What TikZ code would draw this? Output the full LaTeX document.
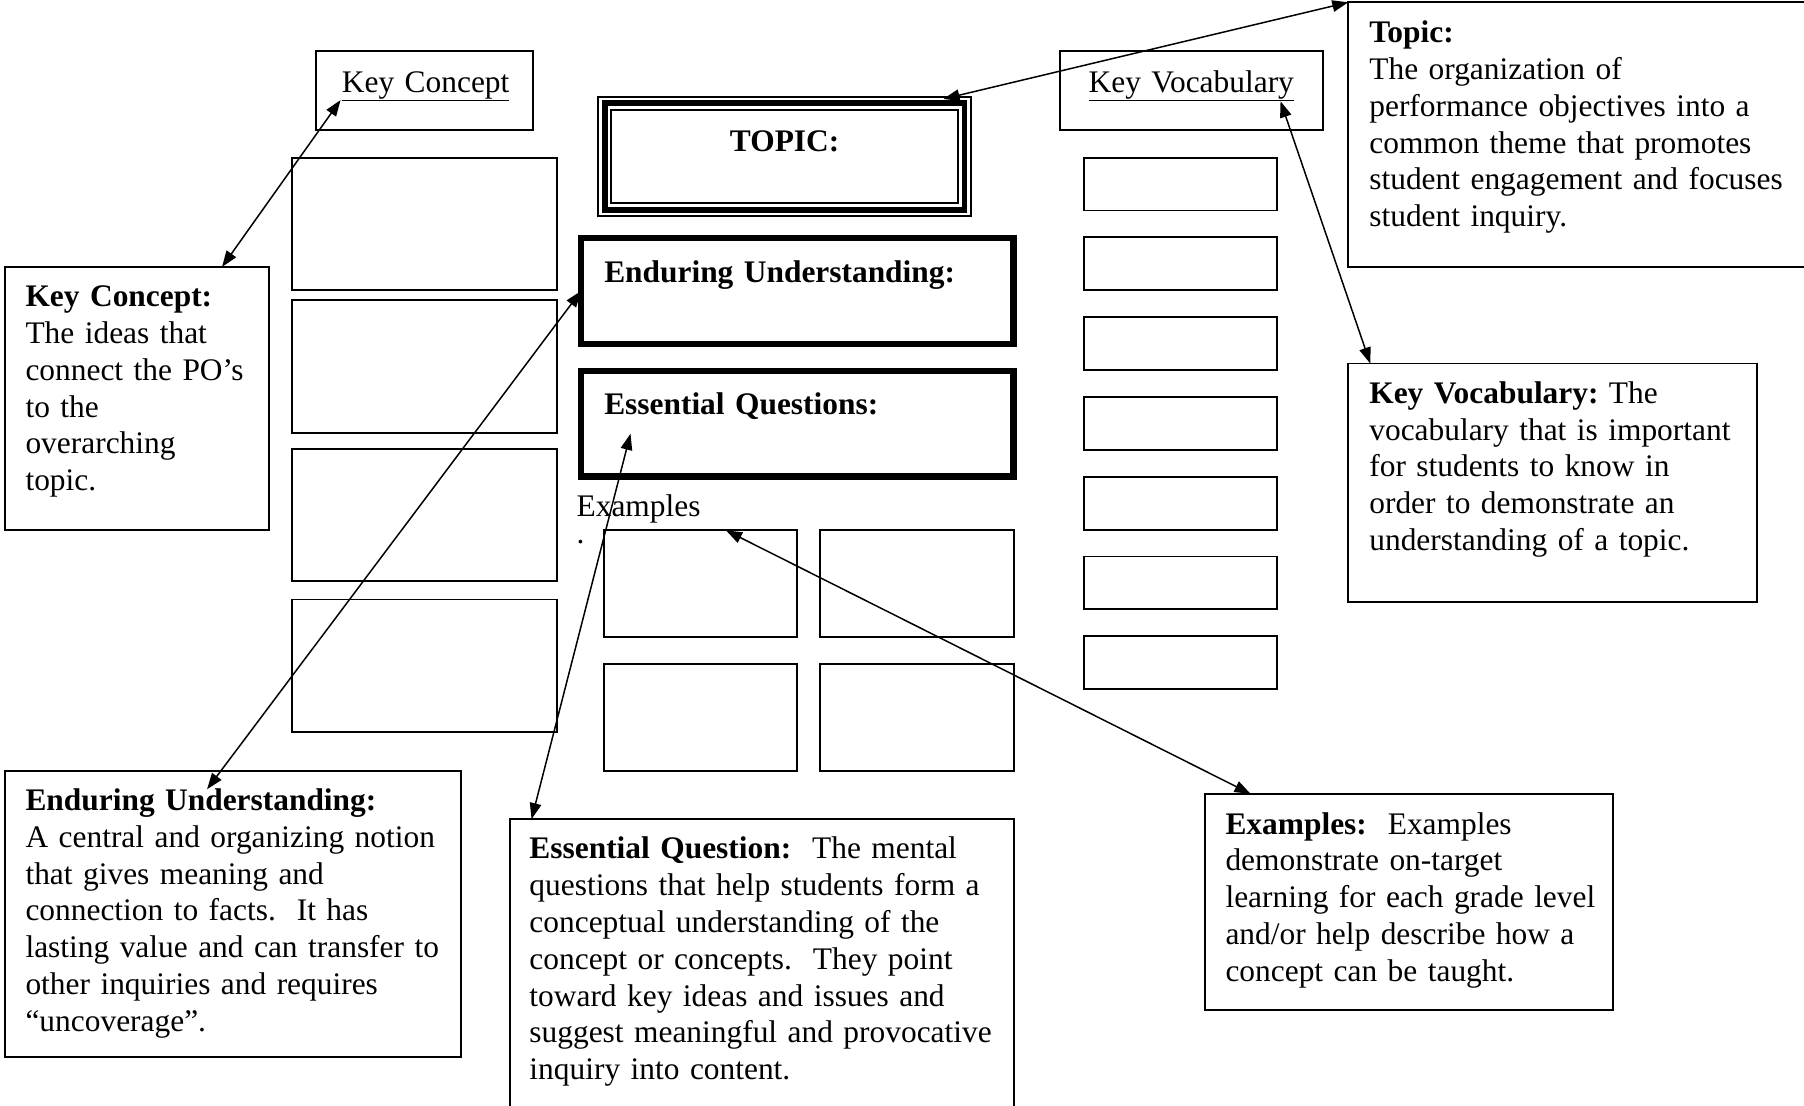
\documentclass[tikz,border=0pt]{standalone}
\usepackage{fontspec}
\setmainfont{Liberation Serif}
\usetikzlibrary{calc,positioning,arrows.meta}

\tikzset{
  box/.style={draw, rectangle, line width=1.6pt, inner sep=0pt, outer sep=0pt, anchor=north west},
  heavybox/.style={box, line width=5.8pt},
  notetext/.style={anchor=base west, inner sep=0pt, text width=430pt, align=left},
  bothways/.style={line width=1.3pt, {Triangle[length=14pt,width=10pt]}-{Triangle[length=14pt,width=10pt]}},
}

\begin{document}
\frenchspacing
\begin{tikzpicture}[x=1pt, y=-1pt, font=\fontsize{27.3pt}{32pt}\selectfont]
  \useasboundingbox (0,0) rectangle (1568,961);
  \clip (0,0) rectangle (1568,961);

  % left column: key concept
  \node [box, minimum width=188, minimum height=69] (kc_label) at (275,44) {};
  \node [notetext] (kc_label_txt) at ([xshift=22pt,yshift=-36pt]kc_label.north west) {\underline{Key Concept}};
  \foreach \y/\n in {137/1,261/2,390/3,521/4}
    \node [box, minimum width=230, minimum height=115] (kc\n) at (254,\y) {};

  % centre column
  \node [box, line width=4.9pt, minimum width=312.8, minimum height=92.8] (topic) at (525.6,89.6) {};
  \draw [line width=1.7pt] ([shift={(-5.6pt,5.6pt)}]topic.north west) rectangle ([shift={(5.6pt,-5.6pt)}]topic.south east);
  \draw [line width=1.7pt] ([shift={(5.6pt,-5.6pt)}]topic.north west) rectangle ([shift={(-5.6pt,5.6pt)}]topic.south east);
  \node [anchor=base, inner sep=0pt] (topic_txt) at ([yshift=-42.4pt]topic.north) {\textbf{TOPIC:}};

  \node [heavybox, minimum width=376, minimum height=92] (eu_box) at (505,207) {};
  \node [notetext] (eu_txt) at ([xshift=20pt,yshift=-38.7pt]eu_box.north west) {\textbf{Enduring Understanding:}};
  \node [heavybox, minimum width=376, minimum height=91.5] (eq_box) at (505,322.5) {};
  \node [notetext] (eq_txt) at ([xshift=20pt,yshift=-37.5pt]eq_box.north west) {\textbf{Essential Questions:}};

  \node [notetext] (ex_label) at (501,449) {Examples\\[-9pt].};
  \foreach \x/\y/\n in {525/461/1,713/461/2,525/577/3,713/577/4}
    \node [box, minimum width=168, minimum height=93] (ex\n) at (\x,\y) {};

  % right column: key vocabulary
  \node [box, minimum width=229, minimum height=69] (kv_label) at (921,44) {};
  \node [notetext] (kv_label_txt) at ([xshift=25pt,yshift=-36pt]kv_label.north west) {\underline{Key Vocabulary}};
  \foreach \n in {0,...,6}
    \node [box, minimum width=168, minimum height=46] (kv\n) at (942,{137+69.33*\n}) {};

  % explanations
  \node [box, minimum width=420, minimum height=230] (topic_desc) at (1172,2) {};
  \node [notetext] at ([xshift=18pt,yshift=-35pt]topic_desc.north west)
    {\textbf{Topic:}\\The organization of\\performance objectives into a\\common theme that promotes\\student engagement and focuses\\student inquiry.};

  \node [box, minimum width=355, minimum height=207] (kv_desc) at (1172,316) {};
  \node [notetext] at ([xshift=18pt,yshift=-34.5pt]kv_desc.north west)
    {\textbf{Key Vocabulary:} The\\vocabulary that is important\\for students to know in\\order to demonstrate an\\understanding of a topic.};

  \node [box, minimum width=230, minimum height=229] (kc_desc) at (4,232) {};
  \node [notetext] at ([xshift=18pt,yshift=-34.5pt]kc_desc.north west)
    {\textbf{Key Concept:}\\The ideas that\\connect the PO’s\\to the\\overarching\\topic.};

  \node [box, minimum width=397, minimum height=249] (eu_desc) at (4,670) {};
  \node [notetext] at ([xshift=18pt,yshift=-34.5pt]eu_desc.north west)
    {\textbf{Enduring Understanding:}\\A central and organizing notion\\that gives meaning and\\connection to facts.~ It has\\lasting value and can transfer to\\other inquiries and requires\\“uncoverage”.};

  \node [box, minimum width=438, minimum height=270] (eq_desc) at (443,712) {};
  \node [notetext] at ([xshift=17pt,yshift=-34.5pt]eq_desc.north west)
    {\textbf{Essential Question:}~ The mental\\questions that help students form a\\conceptual understanding of the\\concept or concepts.~ They point\\toward key ideas and issues and\\suggest meaningful and provocative\\inquiry into content.};

  \node [box, minimum width=355, minimum height=188] (ex_desc) at (1047,690) {};
  \node [notetext] at ([xshift=18pt,yshift=-35pt]ex_desc.north west)
    {\textbf{Examples:}~ Examples\\demonstrate on-target\\learning for each grade level\\and/or help describe how a\\concept can be taught.};

  % arrows
  \coordinate (kc_tip) at (296,87);
  \coordinate (topic_tip) at (820,86);
  \coordinate (kv_tip) at (1113,88);
  \coordinate (eud_tip) at (180,686);
  \coordinate (eq_tip) at (548,377);

  \draw [bothways] (kc_tip) -- ([xshift=189pt]kc_desc.north west);
  \draw [bothways] (topic_desc.north west) -- (topic_tip);
  \draw [bothways] (kv_tip) -- ([xshift=19pt]kv_desc.north west);
  \draw [bothways] (eu_box.west) -- (eud_tip);
  \draw [bothways] (eq_tip) -- ([xshift=19pt]eq_desc.north west);
  \draw [bothways] ([xshift=106pt]ex1.north west) -- ([xshift=40pt]ex_desc.north west);

\end{tikzpicture}
\end{document}
